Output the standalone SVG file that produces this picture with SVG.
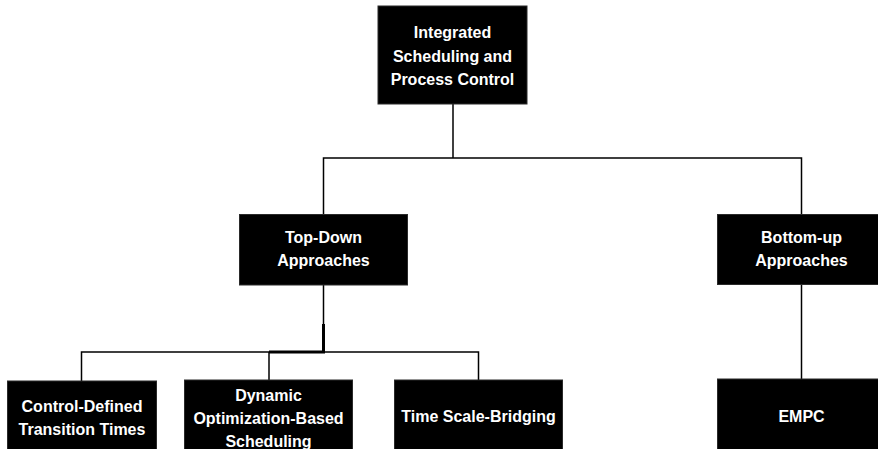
<svg xmlns="http://www.w3.org/2000/svg" width="878" height="449" viewBox="0 0 878 449">
  <style>
    .box { fill: #000000; stroke: #2a2a2a; stroke-width: 1; }
    .label { fill: #ffffff; font-family: "Liberation Sans", Arial, sans-serif; font-size: 16px; font-weight: bold; text-anchor: middle; }
    .link { fill: none; stroke: #000000; stroke-width: 1.5; }
    .link-thick { fill: none; stroke: #000000; stroke-width: 3; }
  </style>
  <rect x="0" y="0" width="878" height="449" fill="#ffffff"/>

  <!-- connectors -->
  <g id="connectors">
    <path class="link" d="M453 104 V158"/>
    <path class="link" d="M323.5 214 V158 H801.5 V214"/>
    <path class="link" d="M323.5 285 V352"/>
    <path class="link-thick" d="M323.5 324 V352 H269"/>
    <path class="link" d="M81.5 381 V352 H478.5 V380"/>
    <path class="link" d="M269 352 V380"/>
    <path class="link" d="M801.5 284 V379"/>
  </g>

  <!-- root -->
  <g id="node-root">
    <rect class="box" x="378" y="6" width="149" height="98"/>
    <text class="label" x="452.5" y="38">Integrated</text>
    <text class="label" x="452.5" y="61.5">Scheduling and</text>
    <text class="label" x="452.5" y="85">Process Control</text>
  </g>

  <!-- second level -->
  <g id="node-top-down">
    <rect class="box" x="239.5" y="214.5" width="168" height="70.5"/>
    <text class="label" x="323.5" y="243">Top-Down</text>
    <text class="label" x="323.5" y="266">Approaches</text>
  </g>
  <g id="node-bottom-up">
    <rect class="box" x="717.5" y="214.5" width="168" height="70"/>
    <text class="label" x="801.5" y="243">Bottom-up</text>
    <text class="label" x="801.5" y="266">Approaches</text>
  </g>

  <!-- leaves -->
  <g id="node-control-defined">
    <rect class="box" x="7.5" y="381" width="149" height="80"/>
    <text class="label" x="82" y="412">Control-Defined</text>
    <text class="label" x="82" y="435">Transition Times</text>
  </g>
  <g id="node-dynamic-optimization">
    <rect class="box" x="184.5" y="380" width="168" height="80"/>
    <text class="label" x="268.5" y="401">Dynamic</text>
    <text class="label" x="268.5" y="424">Optimization-Based</text>
    <text class="label" x="268.5" y="447">Scheduling</text>
  </g>
  <g id="node-time-scale">
    <rect class="box" x="394.5" y="380" width="168" height="80"/>
    <text class="label" x="478.5" y="422">Time Scale-Bridging</text>
  </g>
  <g id="node-empc">
    <rect class="box" x="717.5" y="379" width="168" height="80"/>
    <text class="label" x="801.5" y="422">EMPC</text>
  </g>
</svg>
